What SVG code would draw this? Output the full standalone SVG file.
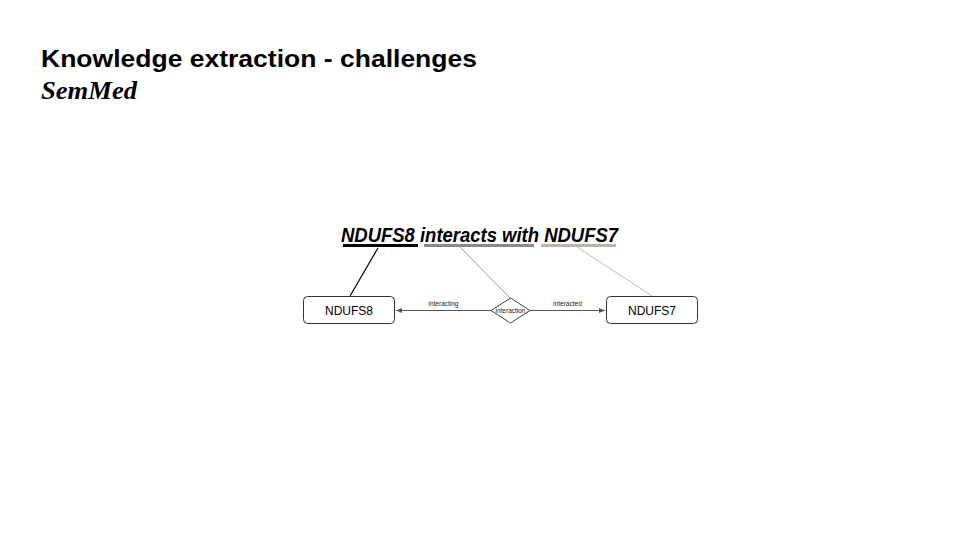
<svg xmlns="http://www.w3.org/2000/svg" width="960" height="540" viewBox="0 0 960 540">
<defs>
<style>
.node rect{fill:#fff;stroke:#333;stroke-width:1}
.lbl{font-family:"Liberation Sans",Arial,sans-serif;font-size:12px;fill:#000;text-anchor:middle}
.small{font-family:"Liberation Sans",Arial,sans-serif;font-size:6.5px;fill:#222;text-anchor:middle}
.edge{stroke:#555;stroke-width:1;fill:none}
.sans{font-family:"Liberation Sans",Arial,sans-serif;font-weight:bold}
.serif{font-family:"Liberation Serif","Times New Roman",serif;font-weight:bold;font-style:italic}
</style>
<marker id="ah" viewBox="0 0 10 10" refX="10" refY="5" markerWidth="6" markerHeight="6" orient="auto-start-reverse">
<path d="M0,1 L10,5 L0,9 z" fill="#555"/>
</marker>
</defs>
<rect width="960" height="540" fill="#fff"/>
<text class="sans" x="41" y="67" font-size="24" textLength="436" lengthAdjust="spacingAndGlyphs">Knowledge extraction - challenges</text>
<text class="serif" x="41" y="99" font-size="25.5" textLength="96" lengthAdjust="spacingAndGlyphs">SemMed</text>
<g id="sentence">
<text class="sans" x="341" y="242" font-style="italic" font-size="19.5" textLength="277" lengthAdjust="spacingAndGlyphs">NDUFS8 interacts with NDUFS7</text>
<line x1="343" y1="245.5" x2="418" y2="245.5" stroke="#000" stroke-width="3"/>
<line x1="424" y1="245.5" x2="534" y2="245.5" stroke="#8a8a8a" stroke-width="3"/>
<line x1="541" y1="245.5" x2="616" y2="245.5" stroke="#bdb3a6" stroke-width="3"/>
</g>
<g id="connectors">
<line x1="378" y1="248" x2="350" y2="296" stroke="#000" stroke-width="1.2"/>
<line x1="460" y1="247" x2="510" y2="298" stroke="#a89684" stroke-width="1"/>
<line x1="577" y1="247" x2="652" y2="296" stroke="#c8bcae" stroke-width="1"/>
<line class="edge" x1="491" y1="310.5" x2="396" y2="310.5" marker-end="url(#ah)"/>
<line class="edge" x1="530" y1="310.5" x2="605" y2="310.5" marker-end="url(#ah)"/>
<text class="small" x="443.5" y="306">interacting</text>
<text class="small" x="567.5" y="306">interacted</text>
</g>
<g id="n1" class="node">
<rect x="303.5" y="296.5" width="91" height="27" rx="4"/>
<text class="lbl" x="349" y="315">NDUFS8</text>
</g>
<g id="n2" class="node">
<rect x="606.5" y="296.5" width="91" height="27" rx="4"/>
<text class="lbl" x="652" y="315">NDUFS7</text>
</g>
<g id="n3">
<polygon points="510.5,298 530,310.5 510.5,323 491,310.5" fill="#fff" stroke="#444" stroke-width="1"/>
<text class="small" x="510.5" y="312.5">interaction</text>
</g>
</svg>
